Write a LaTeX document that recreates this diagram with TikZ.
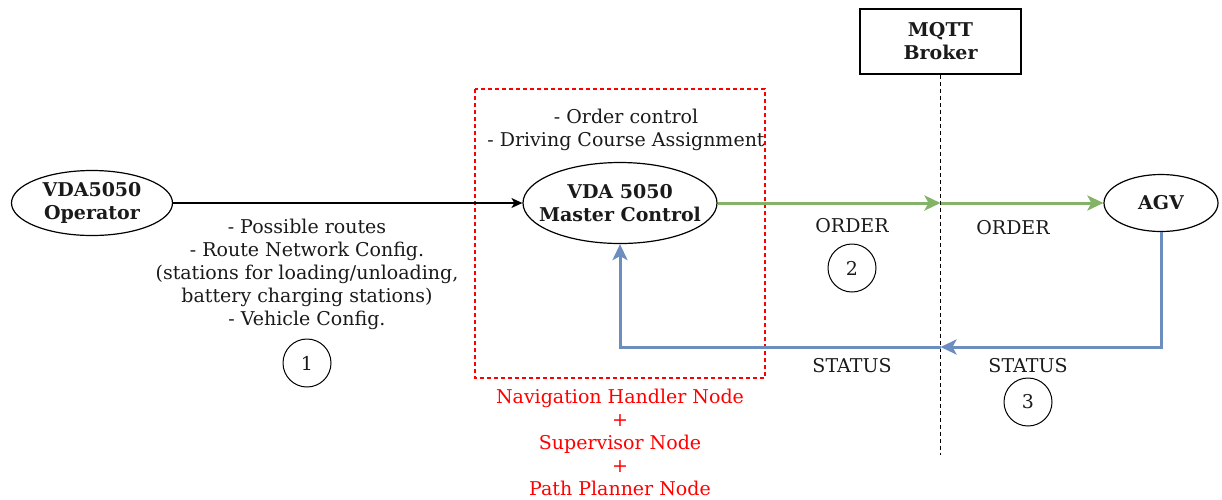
\documentclass[tikz,border=0pt]{standalone}
\usepackage{fontspec}
\setmainfont{DejaVu Serif}
\usetikzlibrary{arrows.meta,shapes.geometric,calc}
\definecolor{flowgreen}{HTML}{82B366}
\definecolor{flowblue}{HTML}{6C8EBF}
\definecolor{txt}{HTML}{1A1A1A}
\begin{document}
\begin{tikzpicture}[x=1pt,y=-1pt,
  every node/.style={text=txt, font=\fontsize{19}{23}\selectfont, inner sep=0pt},
  actor/.style={ellipse, draw=black, line width=1.2pt, align=center,
    font=\fontsize{19}{23}\selectfont\bfseries},
  caption/.style={align=center},
  num/.style={circle, draw=black, line width=1pt, minimum size=48pt},
  plain/.style={draw=black, line width=1.3pt, -{Stealth[length=11pt,width=10pt,inset=3pt]}},
  orderflow/.style={draw=flowgreen, line width=3pt, -{Stealth[length=16pt,width=15pt,inset=4pt]}},
  statusflow/.style={draw=flowblue, line width=3pt, -{Stealth[length=16pt,width=15pt,inset=4pt]}},
  lifeline/.style={draw=black, line width=1.2pt, dash pattern=on 4pt off 3pt},
  groupframe/.style={draw=red, line width=1.4pt, dash pattern=on 4pt off 3pt},
  redtxt/.style={align=center, text=red}
]
\useasboundingbox (0,0) rectangle (1222,499);

% group frame around the master control
\draw[groupframe] (475,89) rectangle (765,378);

% actors
\node[actor, minimum width=161pt, minimum height=65pt] (op) at (92,203) {VDA5050\\Operator};
\node[actor, inner xsep=-14pt, minimum width=194pt, minimum height=81pt] (mc) at (620,203) {VDA 5050\\Master Control};
\node[actor, minimum width=114pt, minimum height=57pt] (agv) at (1161,203) {AGV};
\node[draw=black, line width=1.2pt, minimum width=161pt, minimum height=65pt, align=center,
  font=\fontsize{19}{23}\selectfont\bfseries] (broker) at (940.5,41.5) {MQTT\\Broker};

% broker lifeline and relay points
\coordinate (lifeBot) at (940.5,455);
\draw[lifeline] (broker.south) -- (lifeBot);
\coordinate (relayOrder) at (940.5,203);
\coordinate (relayStatus) at (940.5,347);

% connectors
\draw[plain] (op.east) -- (mc.west);
\draw[orderflow] (mc.east) -- (relayOrder);
\draw[orderflow] (relayOrder) -- (agv.west);
\draw[statusflow] (agv.south) |- (relayStatus);
\draw[statusflow] (relayStatus) -| (mc.south);

% texts
\node[caption] (tasks) at (626,130) {- Order control\\- Driving Course Assignment};
\node[caption] (config) at (307,274) {- Possible routes\\- Route Network Config.\\(stations for loading/unloading,\\battery charging stations)\\- Vehicle Config.};
\node[num] (n1) at (307,363) {1};
\node[caption] (ord1) at (852,226) {ORDER};
\node[num] (n2) at (852,268) {2};
\node[caption] (ord2) at (1013,228) {ORDER};
\node[caption] (st1) at (852,366) {STATUS};
\node[caption] (st2) at (1028,366) {STATUS};
\node[num] (n3) at (1028,402) {3};
\node[redtxt] (nodes) at (620,442) {Navigation Handler Node\\+\\Supervisor Node\\+\\Path Planner Node};
\end{tikzpicture}
\end{document}
